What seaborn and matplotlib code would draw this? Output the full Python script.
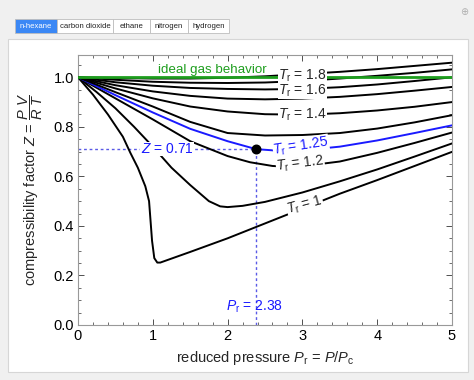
import numpy as np
import pandas as pd
import matplotlib
matplotlib.use("Agg")
import matplotlib.pyplot as plt
import seaborn as sns
from matplotlib.patches import Rectangle
from matplotlib.ticker import MultipleLocator

# ------------------------------------------------------------
# data (reduced pressure vs compressibility)
# ------------------------------------------------------------
pr_t10 = [0, 0.2, 0.4, 0.6, 0.7, 0.8, 0.9, 0.95, 0.97, 0.99, 1.02, 1.06, 1.1,
          1.5, 2.0, 2.5, 3.0, 3.5, 4.0, 4.5, 5.0]
z_t10 = [1.0, 0.93, 0.85, 0.76, 0.695, 0.635, 0.56, 0.50, 0.42, 0.34, 0.27,
         0.252, 0.252, 0.295, 0.35, 0.41, 0.47, 0.53, 0.585, 0.642, 0.699]

pr_t11 = [0, 0.25, 0.5, 0.75, 1.0, 1.25, 1.5, 1.75, 1.9, 2.0, 2.2, 2.5, 3.0,
          3.5, 4.0, 4.5, 5.0]
z_t11 = [1.0, 0.94, 0.875, 0.80, 0.72, 0.635, 0.565, 0.50, 0.479, 0.476,
         0.481, 0.497, 0.535, 0.58, 0.628, 0.68, 0.733]

pr_t12 = [0, 0.5, 1.0, 1.5, 2.0, 2.3, 2.6, 2.8, 3.0, 3.5, 4.0, 4.5, 5.0]
z_t12 = [1.0, 0.915, 0.83, 0.742, 0.682, 0.657, 0.642, 0.639, 0.641, 0.66,
         0.695, 0.735, 0.777]

pr_t125 = [0, 0.5, 1.0, 1.5, 2.0, 2.38, 2.7, 3.0, 3.5, 4.0, 4.5, 5.0]
z_t125 = [1.0, 0.928, 0.858, 0.792, 0.742, 0.71, 0.703, 0.705, 0.72, 0.745,
          0.775, 0.806]

pr_grid = [0, 0.5, 1.0, 1.5, 2.0, 2.5, 3.0, 3.5, 4.0, 4.5, 5.0]
z_t13 = [1.0, 0.94, 0.882, 0.82, 0.775, 0.765, 0.767, 0.775, 0.793, 0.818, 0.847]
z_t14 = [1.0, 0.955, 0.915, 0.882, 0.862, 0.851, 0.849, 0.855, 0.866, 0.881, 0.90]
z_t15 = [1.0, 0.968, 0.943, 0.925, 0.914, 0.911, 0.914, 0.921, 0.932, 0.946, 0.961]
z_t16 = [1.0, 0.98, 0.966, 0.957, 0.953, 0.951, 0.953, 0.96, 0.971, 0.985, 1.0]
z_t18 = [1.0, 0.99, 0.982, 0.978, 0.977, 0.979, 0.985, 0.995, 1.006, 1.018, 1.032]
z_t20 = [1.0, 0.997, 0.995, 0.995, 0.998, 1.004, 1.013, 1.022, 1.033, 1.046, 1.059]

pr_ideal = [0, 5]
z_ideal = [1.0, 1.0]

# selected state
pr_sel = 2.38
z_sel = 0.71

tabs = ["n-hexane", "carbon dioxide", "ethane", "nitrogen", "hydrogen"]

rows = []
for name, xs, ys in [("1", pr_t10, z_t10), ("1.1", pr_t11, z_t11),
                     ("1.2", pr_t12, z_t12), ("1.25", pr_t125, z_t125),
                     ("1.3", pr_grid, z_t13), ("1.4", pr_grid, z_t14),
                     ("1.5", pr_grid, z_t15), ("1.6", pr_grid, z_t16),
                     ("1.8", pr_grid, z_t18), ("2.0", pr_grid, z_t20)]:
    for x, y in zip(xs, ys):
        rows.append({"Tr": name, "Pr": x, "Z": y})
df = pd.DataFrame(rows)

# ------------------------------------------------------------
# style
# ------------------------------------------------------------
sns.set_style("ticks")
plt.rcParams["font.family"] = ["Liberation Sans", "DejaVu Sans"]
plt.rcParams["mathtext.fontset"] = "custom"
plt.rcParams["mathtext.rm"] = "Liberation Sans"
plt.rcParams["mathtext.it"] = "Liberation Sans:italic"

BLUE = "#1a1aff"
GREEN = "#1e9e1e"
DOT = "#5a5ae6"

fig = plt.figure(figsize=(4.74, 3.80), dpi=100, facecolor="#f0f0f0")

# white panel (behind the axes)
fig.patches.append(Rectangle((8 / 474, 1 - 372 / 380), 460 / 474, 333 / 380,
                             transform=fig.transFigure, facecolor="white",
                             edgecolor="#d6d6d6", lw=0.8, zorder=-5))

# tab bar
tab_x = [15, 57, 113, 150, 188, 229]
for i, t in enumerate(tabs):
    x0, x1 = tab_x[i] / 474, tab_x[i + 1] / 474
    sel = i == 0
    fig.patches.append(Rectangle((x0, 1 - 33 / 380), x1 - x0, 14 / 380,
                                 transform=fig.transFigure,
                                 facecolor="#3b88f5" if sel else "white",
                                 edgecolor="#bdbdbd", lw=0.6, zorder=-4))
    fig.text((x0 + x1) / 2, 1 - 26 / 380, t, ha="center", va="center",
             fontsize=5.6, color="white" if sel else "#222222")
fig.text(464 / 474, 1 - 12 / 380, "\u2295", ha="center", va="center",
         fontsize=7, color="#b0b0b0", family=["DejaVu Sans"])

ax = fig.add_axes([78 / 474, 1 - 325 / 380, 374 / 474, 270 / 380])
ax.set_zorder(2)
ax.set_facecolor("white")

palette = {k: "black" for k in df["Tr"].unique()}
palette["1.25"] = BLUE
sns.lineplot(data=df, x="Pr", y="Z", hue="Tr", palette=palette, sort=False,
             estimator=None, lw=1.4, legend=False, ax=ax, zorder=3)
sns.lineplot(x=pr_ideal, y=z_ideal, color=GREEN, lw=2.0, ax=ax, zorder=4)

# selected point guides
ax.plot([0, pr_sel], [z_sel, z_sel], ls=(0, (2, 2)), color=DOT, lw=1.0, zorder=2)
ax.plot([pr_sel, pr_sel], [0, z_sel], ls=(0, (2, 2)), color=DOT, lw=1.0, zorder=2)
ax.scatter([pr_sel], [z_sel], s=38, color="black", zorder=6)

box = dict(facecolor="white", edgecolor="none", pad=0.1)
fs = 10
ax.text(1.79, 1.028, "ideal gas behavior", color=GREEN, fontsize=9.6,
        ha="center", va="center", zorder=7)
ax.text(3.0, 1.008, r"$T_\mathrm{r}$ = 1.8", fontsize=fs, ha="center",
        va="center", bbox=box, zorder=7)
ax.text(3.0, 0.946, r"$T_\mathrm{r}$ = 1.6", fontsize=fs, ha="center",
        va="center", bbox=box, zorder=7)
ax.text(3.0, 0.847, r"$T_\mathrm{r}$ = 1.4", fontsize=fs, ha="center",
        va="center", bbox=box, zorder=7)
ax.text(2.98, 0.722, r"$T_\mathrm{r}$ = 1.25", fontsize=fs, ha="center",
        va="center", color=BLUE, rotation=9, bbox=box, zorder=7)
ax.text(2.97, 0.652, r"$T_\mathrm{r}$ = 1.2", fontsize=fs, ha="center",
        va="center", rotation=7, bbox=box, zorder=7)
ax.text(3.03, 0.485, r"$T_\mathrm{r}$ = 1", fontsize=fs, ha="center",
        va="center", rotation=15, bbox=box, zorder=7)
ax.text(1.19, z_sel, r"$Z$ = 0.71", fontsize=fs, ha="center", va="center",
        color=BLUE, bbox=box, zorder=7)
ax.text(pr_sel - 0.02, 0.073, r"$P_\mathrm{r}$ = 2.38", fontsize=fs,
        ha="center", va="center", color=BLUE, zorder=7)

ax.set_xlim(0, 5)
ax.set_ylim(0, 1.09)
ax.set_xticks([0, 1, 2, 3, 4, 5])
ax.set_yticks([0, 0.2, 0.4, 0.6, 0.8, 1.0])
ax.set_yticklabels(["0.0", "0.2", "0.4", "0.6", "0.8", "1.0"])
ax.xaxis.set_minor_locator(MultipleLocator(0.2))
ax.yaxis.set_minor_locator(MultipleLocator(0.05))
ax.tick_params(which="both", direction="in", top=True, right=True,
               labelsize=10.5, colors="#333333", labelcolor="black")
ax.tick_params(which="major", length=4, width=0.6, pad=3)
ax.tick_params(which="minor", length=2.2, width=0.5)
for s in ax.spines.values():
    s.set_color("#999999")
    s.set_linewidth(0.8)

ax.set_xlabel(r"reduced pressure $P_\mathrm{r}$ = $P/P_\mathrm{c}$",
              fontsize=10.5, labelpad=4)
ax.set_ylabel(r"compressibility factor $Z$ = $\dfrac{P\ V}{R\ T}$",
              fontsize=10.5, labelpad=6)

fig.savefig("out.png", dpi=100, facecolor=fig.get_facecolor())
